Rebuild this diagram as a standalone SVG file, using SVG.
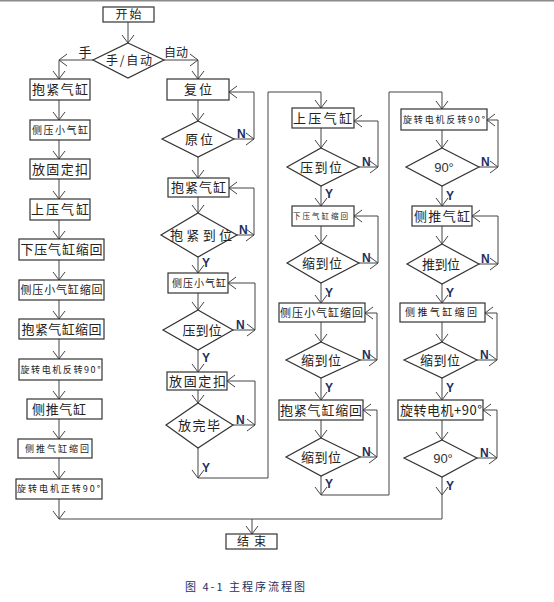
<svg xmlns="http://www.w3.org/2000/svg" width="554" height="602" viewBox="0 0 554 602">
<defs>
<style>
.b{fill:#fff;stroke:#333;stroke-width:1.2}
.c{fill:none;stroke:#444;stroke-width:1}
.t{font-family:"Noto Sans CJK SC","Noto Sans CJK JP",sans-serif;fill:#222;text-anchor:middle;font-size:13px}
.s{font-size:10px}
.xs{font-size:9px}
.l{font-family:"Liberation Sans",sans-serif;fill:#333;text-anchor:middle;font-size:13px}
.yn{font-family:"Liberation Sans",sans-serif;font-weight:bold;fill:#1d2f5f;font-size:12px}
.cap{font-family:"Noto Sans CJK SC",sans-serif;fill:#1d2f5f;font-size:11px}
</style>
<marker id="a" markerUnits="userSpaceOnUse" markerWidth="10" markerHeight="14" refX="9" refY="7" orient="auto" viewBox="0 0 10 14">
<path d="M1,1 L9,7 L1,13" fill="none" stroke="#444" stroke-width="1"/>
</marker>
</defs>
<rect x="0" y="0" width="554" height="1.5" fill="#8a8a8a"/>

<g id="connectors" class="c">
<path d="M128,22 V43" marker-end="url(#a)"/>
<path d="M93,60 H59" marker-end="url(#a)"/>
<path d="M59,60 V79" marker-end="url(#a)"/>
<path d="M164,60 H198" marker-end="url(#a)"/>
<path d="M198,60 V79" marker-end="url(#a)"/>
<!-- col1 -->
<path d="M59,100 V120" marker-end="url(#a)"/>
<path d="M59,140 V159" marker-end="url(#a)"/>
<path d="M59,179 V199" marker-end="url(#a)"/>
<path d="M59,220 V239" marker-end="url(#a)"/>
<path d="M59,260 V280" marker-end="url(#a)"/>
<path d="M59,300 V319" marker-end="url(#a)"/>
<path d="M59,339 V359" marker-end="url(#a)"/>
<path d="M59,380 V399" marker-end="url(#a)"/>
<path d="M59,419 V439" marker-end="url(#a)"/>
<path d="M59,458 V479" marker-end="url(#a)"/>
<path d="M59,499 V519" marker-end="url(#a)"/>
<path d="M59,519 H442"/>
<path d="M252,519 V534" marker-end="url(#a)"/>
<!-- col2 -->
<path d="M198,100 V121" marker-end="url(#a)"/>
<path d="M234,139 H254" marker-end="url(#a)"/>
<path d="M254,139 V92 H229" marker-end="url(#a)"/>
<path d="M198,157 V178" marker-end="url(#a)"/>
<path d="M198,197 V213" marker-end="url(#a)"/>
<path d="M237,235 H254" marker-end="url(#a)"/>
<path d="M254,235 V188 H229" marker-end="url(#a)"/>
<path d="M198,257 V273" marker-end="url(#a)"/>
<path d="M198,293 V310" marker-end="url(#a)"/>
<path d="M233,330 H255" marker-end="url(#a)"/>
<path d="M255,330 V283 H228" marker-end="url(#a)"/>
<path d="M198,350 V372" marker-end="url(#a)"/>
<path d="M198,390 V403" marker-end="url(#a)"/>
<path d="M233,425 H255" marker-end="url(#a)"/>
<path d="M255,425 V381 H227" marker-end="url(#a)"/>
<path d="M198,448 V478" marker-end="url(#a)"/>
<path d="M198,478 H268 V92 H321"/>
<path d="M321,92 V108" marker-end="url(#a)"/>
<!-- col3 -->
<path d="M321,128 V148" marker-end="url(#a)"/>
<path d="M359,167 H378" marker-end="url(#a)"/>
<path d="M378,167 V121 H354" marker-end="url(#a)"/>
<path d="M321,186 V206" marker-end="url(#a)"/>
<path d="M321,226 V243" marker-end="url(#a)"/>
<path d="M359,263 H378" marker-end="url(#a)"/>
<path d="M378,263 V216 H354" marker-end="url(#a)"/>
<path d="M321,283 V303" marker-end="url(#a)"/>
<path d="M321,322 V342" marker-end="url(#a)"/>
<path d="M360,360 H377" marker-end="url(#a)"/>
<path d="M377,360 V313 H365" marker-end="url(#a)"/>
<path d="M321,378 V400" marker-end="url(#a)"/>
<path d="M321,420 V438" marker-end="url(#a)"/>
<path d="M360,457 H377" marker-end="url(#a)"/>
<path d="M377,457 V410 H363" marker-end="url(#a)"/>
<path d="M321,476 V495" marker-end="url(#a)"/>
<path d="M321,495 H389 V92 H442"/>
<path d="M442,92 V109" marker-end="url(#a)"/>
<!-- col4 -->
<path d="M442,130 V148" marker-end="url(#a)"/>
<path d="M479,167 H498" marker-end="url(#a)"/>
<path d="M498,167 V120 H487" marker-end="url(#a)"/>
<path d="M442,186 V206" marker-end="url(#a)"/>
<path d="M442,226 V244" marker-end="url(#a)"/>
<path d="M479,264 H498" marker-end="url(#a)"/>
<path d="M498,264 V216 H472" marker-end="url(#a)"/>
<path d="M442,284 V303" marker-end="url(#a)"/>
<path d="M442,322 V342" marker-end="url(#a)"/>
<path d="M477,360 H497" marker-end="url(#a)"/>
<path d="M497,360 V313 H485" marker-end="url(#a)"/>
<path d="M442,378 V400" marker-end="url(#a)"/>
<path d="M442,420 V440" marker-end="url(#a)"/>
<path d="M477,458 H497" marker-end="url(#a)"/>
<path d="M497,458 V410 H483" marker-end="url(#a)"/>
<path d="M442,477 V495" marker-end="url(#a)"/>
<path d="M442,495 V519"/>
</g>

<g id="labels">
<text class="t" x="85" y="56.5" font-size="12">手</text>
<text class="t" x="176" y="56.5" style="font-size:12px" textLength="24" lengthAdjust="spacing">自动</text>
<text class="yn" x="202" y="267">Y</text>
<text class="yn" x="202" y="362">Y</text>
<text class="yn" x="202" y="472">Y</text>
<text class="yn" x="325" y="198">Y</text>
<text class="yn" x="325" y="297">Y</text>
<text class="yn" x="325" y="392">Y</text>
<text class="yn" x="325" y="488">Y</text>
<text class="yn" x="446" y="200">Y</text>
<text class="yn" x="446" y="297">Y</text>
<text class="yn" x="446" y="392">Y</text>
<text class="yn" x="446" y="490">Y</text>
<text class="yn" x="237" y="138">N</text>
<text class="yn" x="239" y="234">N</text>
<text class="yn" x="236" y="329">N</text>
<text class="yn" x="236" y="424">N</text>
<text class="yn" x="362" y="166">N</text>
<text class="yn" x="362" y="262">N</text>
<text class="yn" x="362" y="359">N</text>
<text class="yn" x="362" y="456">N</text>
<text class="yn" x="481" y="166">N</text>
<text class="yn" x="481" y="263">N</text>
<text class="yn" x="480" y="359">N</text>
<text class="yn" x="480" y="457">N</text>
</g>

<g id="start"><rect class="b" x="103" y="7" width="51" height="15"/><text class="t" x="128.5" y="19" style="font-size:12px" textLength="26" lengthAdjust="spacing">开始</text></g>
<g id="mode"><polygon class="b" points="128,43 164,60 128,78 93,60"/><text class="t" x="129" y="64.5" style="font-size:12px" textLength="46" lengthAdjust="spacing">手/自动</text></g>

<g id="m1"><rect class="b" x="30" y="79" width="60" height="21"/><text class="t" x="60" y="94.2" textLength="56" lengthAdjust="spacing">抱紧气缸</text></g>
<g id="m2"><rect class="b" x="30" y="120" width="60" height="20"/><text class="t s" x="60" y="133.6" textLength="56" lengthAdjust="spacing">侧压小气缸</text></g>
<g id="m3"><rect class="b" x="30" y="159" width="60" height="20"/><text class="t" x="60" y="173.7" textLength="56" lengthAdjust="spacing">放固定扣</text></g>
<g id="m4"><rect class="b" x="30" y="199" width="60" height="21"/><text class="t" x="60" y="214.2" textLength="58" lengthAdjust="spacing">上压气缸</text></g>
<g id="m5"><rect class="b" x="19" y="239" width="85" height="21"/><text class="t" x="61.5" y="254.2" textLength="82" lengthAdjust="spacing">下压气缸缩回</text></g>
<g id="m6"><rect class="b" x="19" y="280" width="85" height="20"/><text class="t" x="61.5" y="294" style="font-size:11px" textLength="82" lengthAdjust="spacing">侧压小气缸缩回</text></g>
<g id="m7"><rect class="b" x="19" y="319" width="85" height="20"/><text class="t" x="61.5" y="333.7" textLength="80" lengthAdjust="spacing">抱紧气缸缩回</text></g>
<g id="m8"><rect class="b" x="19" y="359" width="83" height="21"/><text class="t xs" x="60.5" y="372.7" textLength="80" lengthAdjust="spacing">旋转电机反转90°</text></g>
<g id="m9"><rect class="b" x="27" y="399" width="75" height="20"/><text class="t" x="59" y="413.7" textLength="54" lengthAdjust="spacing">侧推气缸</text></g>
<g id="m10"><rect class="b" x="18" y="439" width="74" height="19"/><text class="t xs" x="57" y="451.8" textLength="64" lengthAdjust="spacing">侧推气缸缩回</text></g>
<g id="m11"><rect class="b" x="16" y="479" width="86" height="20"/><text class="t xs" x="58.5" y="492.2" textLength="83" lengthAdjust="spacing">旋转电机正转90°</text></g>

<g id="a1"><rect class="b" x="167" y="79" width="62" height="21"/><text class="t" x="198" y="94.2" textLength="28" lengthAdjust="spacing">复位</text></g>
<g id="a2"><polygon class="b" points="198,121 234,139 198,157 162,139"/><text class="t" x="199" y="143.7" textLength="28" lengthAdjust="spacing">原位</text></g>
<g id="a3"><rect class="b" x="168" y="178" width="61" height="19"/><text class="t" x="198.5" y="192.2" textLength="55" lengthAdjust="spacing">抱紧气缸</text></g>
<g id="a4"><polygon class="b" points="198,213 237,235 198,257 161,235"/><text class="t" x="201" y="239.7" textLength="62" lengthAdjust="spacing">抱紧到位</text></g>
<g id="a5"><rect class="b" x="168" y="273" width="60" height="20"/><text class="t s" x="199" y="286.6" textLength="54" lengthAdjust="spacing">侧压小气缸</text></g>
<g id="a6"><polygon class="b" points="198,310 233,330 198,350 163,330"/><text class="t" x="202" y="334.7" textLength="39" lengthAdjust="spacing">压到位</text></g>
<g id="a7"><rect class="b" x="167" y="372" width="60" height="18"/><text class="t" x="197.5" y="385.7" textLength="57" lengthAdjust="spacing">放固定扣</text></g>
<g id="a8"><polygon class="b" points="198,403 233,425 198,448 166,425"/><text class="t" x="199" y="429.7" textLength="42" lengthAdjust="spacing">放完毕</text></g>

<g id="b1"><rect class="b" x="292" y="108" width="62" height="20"/><text class="t" x="322.5" y="122.7" textLength="59" lengthAdjust="spacing">上压气缸</text></g>
<g id="b2"><polygon class="b" points="321,148 359,167 321,186 287,167"/><text class="t" x="321" y="171.7" textLength="42" lengthAdjust="spacing">压到位</text></g>
<g id="b3"><rect class="b" x="292" y="206" width="62" height="20"/><text class="t" x="320.5" y="218.7" style="font-size:7.5px" textLength="55" lengthAdjust="spacing">下压气缸缩回</text></g>
<g id="b4"><polygon class="b" points="321,243 359,263 321,283 287,263"/><text class="t" x="322" y="267.7" textLength="40" lengthAdjust="spacing">缩到位</text></g>
<g id="b5"><rect class="b" x="279" y="303" width="86" height="19"/><text class="t" x="321.5" y="316.5" style="font-size:11px" textLength="83" lengthAdjust="spacing">侧压小气缸缩回</text></g>
<g id="b6"><polygon class="b" points="321,342 360,360 321,378 286,360"/><text class="t" x="321" y="364.7" textLength="40" lengthAdjust="spacing">缩到位</text></g>
<g id="b7"><rect class="b" x="279" y="400" width="84" height="20"/><text class="t" x="321" y="414.7" textLength="82" lengthAdjust="spacing">抱紧气缸缩回</text></g>
<g id="b8"><polygon class="b" points="321,438 360,457 321,476 286,457"/><text class="t" x="321" y="461.7" textLength="40" lengthAdjust="spacing">缩到位</text></g>

<g id="c1"><rect class="b" x="401" y="109" width="86" height="21"/><text class="t xs" x="444" y="122.7" textLength="82" lengthAdjust="spacing">旋转电机反转90°</text></g>
<g id="c2"><polygon class="b" points="442,148 479,167 442,186 406,167"/><text class="l" x="444" y="171.5">90°</text></g>
<g id="c3"><rect class="b" x="412" y="206" width="60" height="20"/><text class="t" x="442" y="220.7" textLength="56" lengthAdjust="spacing">侧推气缸</text></g>
<g id="c4"><polygon class="b" points="442,244 479,264 442,284 407,264"/><text class="t" x="441" y="268.7" textLength="38" lengthAdjust="spacing">推到位</text></g>
<g id="c5"><rect class="b" x="400" y="303" width="85" height="19"/><text class="t s" x="441" y="316.1" textLength="72" lengthAdjust="spacing">侧推气缸缩回</text></g>
<g id="c6"><polygon class="b" points="442,342 477,360 442,378 404,360"/><text class="t" x="440" y="364.7" textLength="40" lengthAdjust="spacing">缩到位</text></g>
<g id="c7"><rect class="b" x="398" y="400" width="85" height="20"/><text class="t" x="441" y="414.7" textLength="82" lengthAdjust="spacing">旋转电机+90°</text></g>
<g id="c8"><polygon class="b" points="442,440 477,458 442,477 404,458"/><text class="l" x="443" y="462.5">90°</text></g>

<g id="end"><rect class="b" x="226" y="534" width="51" height="15"/><text class="t" x="251.5" y="546" style="font-size:12px" textLength="29" lengthAdjust="spacing">结束</text></g>

<text class="cap" x="185" y="591" textLength="120" lengthAdjust="spacing">图 4-1 主程序流程图</text>
</svg>
